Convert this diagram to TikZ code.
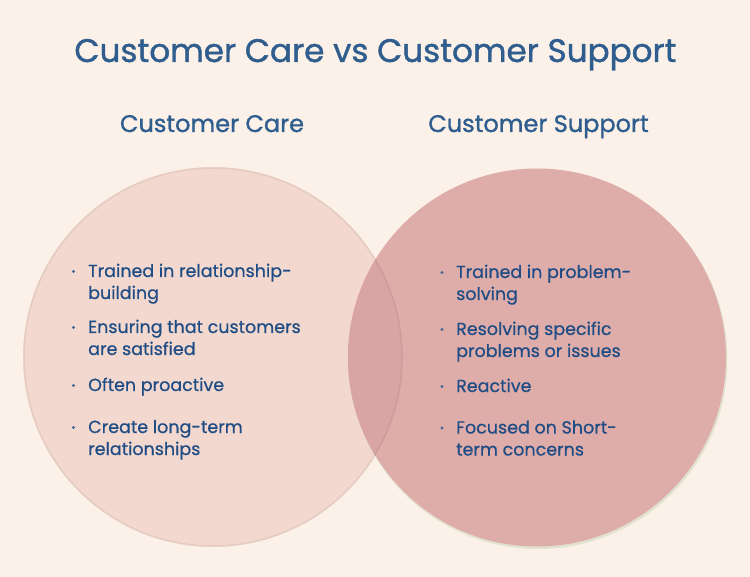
\documentclass[tikz,border=0pt]{standalone}
\usepackage{fontspec}
\setmainfont{Poppins}
\newfontfamily\popmed{Poppins}[FakeBold=0.6]
\newfontfamily\popsemi{Poppins}[FakeBold=1.2]
\definecolor{bg}{HTML}{FCF1E8}
\definecolor{careC}{HTML}{F2D8CE}
\definecolor{suppC}{HTML}{DEADA9}
\definecolor{overC}{HTML}{D9A4A4}
\definecolor{titleC}{HTML}{2F5E8E}
\definecolor{textC}{HTML}{1F4C84}
\begin{document}
\begin{tikzpicture}[x=1pt,y=-1pt,
  titletext/.style={text=titleC,font=\popsemi\fontsize{32.6}{36}\selectfont,inner sep=0pt,anchor=base},
  headtext/.style={text=titleC,font=\popsemi\fontsize{24}{28}\selectfont,inner sep=0pt,anchor=base},
  itemtext/.style={text=textC,font=\popmed\fontsize{17.5}{22}\selectfont,anchor=base west,inner sep=0pt},
  dot/.style={circle,fill=textC!85,inner sep=0pt,minimum size=3.2pt}]
\fill[bg] (0,0) rectangle (750,577);
\useasboundingbox (0,0) rectangle (750,577);
% circles
\fill[careC] (213,357) circle (190);
\fill[black!60!green,opacity=0.10] (538,359.5) circle (189.5);
\fill[suppC] (537,357.5) circle (189);
\begin{scope}
  \clip (213,357) circle (190);
  \fill[overC] (537,357.5) circle (189);
  \draw[black,opacity=0.05,line width=1.5pt] (213,357) circle (189);
\end{scope}
% title
\node[titletext] (title) at (375.5,62) {Customer Care vs Customer Support};
\node[headtext] (care) at (212,132) {Customer Care};
\node[headtext] (supp) at (538.5,132) {Customer Support};
% left items
\node[itemtext] (l1a) at (88,277) {Trained in relationship-};
\node[itemtext] (l1b) at (88,299) {building};
\node[itemtext] (l2a) at (88,333) {Ensuring that customers};
\node[itemtext] (l2b) at (88,355) {are satisfied};
\node[itemtext] (l3a) at (88,391) {Often proactive};
\node[itemtext] (l4a) at (88,433) {Create long-term};
\node[itemtext] (l4b) at (88,455) {relationships};
\node[dot] (ld1) at (73.5,271.5) {};
\node[dot] (ld2) at (73.5,327.5) {};
\node[dot] (ld3) at (73.5,385.5) {};
\node[dot] (ld4) at (73.5,427.5) {};
% right items
\node[itemtext] (r1a) at (456,278) {Trained in problem-};
\node[itemtext] (r1b) at (456,300) {solving};
\node[itemtext] (r2a) at (456,335) {Resolving specific};
\node[itemtext] (r2b) at (456,357) {problems or issues};
\node[itemtext] (r3a) at (456,392) {Reactive};
\node[itemtext] (r4a) at (456,433.5) {Focused on Short-};
\node[itemtext] (r4b) at (456,455.5) {term concerns};
\node[dot] (rd1) at (442,272.5) {};
\node[dot] (rd2) at (442,329.5) {};
\node[dot] (rd3) at (442,386.5) {};
\node[dot] (rd4) at (442,428) {};
\end{tikzpicture}
\end{document}
